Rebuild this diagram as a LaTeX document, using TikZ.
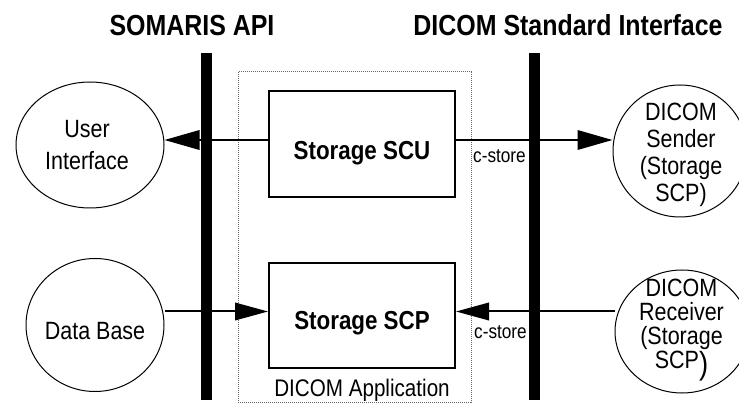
\documentclass[tikz,border=0pt]{standalone}
\usepackage{fontspec}
\setmainfont{Liberation Sans}[FakeStretch=0.86]
\usetikzlibrary{shapes.geometric,arrows.meta}
\begin{document}
\begin{tikzpicture}[x=1pt,y=-1pt,
  bar/.style={fill=black,draw=none,minimum width=11pt,minimum height=347pt,inner sep=0pt},
  box/.style={draw=black,line width=2pt,minimum width=186pt,inner sep=0pt},
  boxtext/.style={font=\bfseries\fontsize{26}{28}\selectfont,inner sep=0pt},
  circ/.style={draw=black,line width=1pt,ellipse,inner sep=0pt},
  ctext/.style={align=center,inner sep=0pt},
  title/.style={font=\bfseries\fontsize{29}{31}\selectfont,inner sep=0pt},
  lbl/.style={font=\fontsize{20}{22}\selectfont,inner sep=0pt},
  conn/.style={line width=2pt},
  bigtip/.style={-{Triangle[length=35pt,width=19.5pt]}},
  smalltip/.style={-{Triangle[length=33pt,width=17.5pt]}},
  appbox/.style={draw=black!60,line width=1pt,dash pattern=on 1pt off 1pt}
]
\useasboundingbox (0,0) rectangle (739,403);
% application box
\node[appbox,minimum width=233pt,minimum height=330pt,inner sep=0pt] (app) at (354.5,237) {};
\node[lbl,font=\fontsize{24}{26}\selectfont,anchor=base] (applbl) at (362,396) {DICOM Application};
% titles
\node[title,anchor=base] (t1) at (192,36) {SOMARIS API};
\node[title,anchor=base] (t2) at (568,36) {DICOM Standard Interface};
% boxes
\node[box,minimum height=106pt] (scu) at (362,144) {};
\node[boxtext,anchor=base] (scutxt) at ([yshift=-16pt]scu.center) {Storage SCU};
\node[box,minimum height=105pt] (scp) at (362,315.5) {};
\node[boxtext,anchor=base] (scptxt) at ([yshift=-14.5pt]scp.center) {Storage SCP};
% circles
\node[circ,minimum width=148pt,minimum height=126pt] (ui) at (90,145) {};
\node[ctext,font=\fontsize{25}{32}\selectfont] (uitxt) at (87,145) {User\\Interface};
\node[circ,minimum width=138pt,minimum height=133pt] (db) at (95,325) {};
\node[ctext,font=\fontsize{25}{27}\selectfont,anchor=base] (dbtxt) at (95,340) {Data Base};
\node[circ,minimum width=134pt,minimum height=132pt] (snd) at (680,151) {};
\node[ctext,font=\fontsize{25}{27}\selectfont] (sndtxt) at (681,155) {DICOM\\Sender\\(Storage\\SCP)};
\node[circ,minimum width=134pt,minimum height=123pt] (rcv) at (682,331.5) {};
\node[ctext,font=\fontsize{25}{24.2}\selectfont] (rcvtxt) at (681.5,330) {DICOM\\Receiver\\(Storage\\SCP\raisebox{-6pt}{\fontsize{32}{32}\selectfont )}};
% bars
\node[bar] (lbar) at (206.5,226.5) {};
\node[bar] (rbar) at (534.5,226.5) {};
% connectors
\draw[conn,bigtip] ([yshift=4pt]scu.west) -- ([yshift=4pt]scu.west -| ui.east);
\draw[conn,bigtip] ([yshift=4pt]scu.east) -- ([yshift=4pt]scu.east -| snd.west);
\draw[conn,smalltip] ([yshift=4pt]scp.west -| db.east) -- ([yshift=4pt]scp.west);
\draw[conn,smalltip] ([yshift=4pt]scp.east -| rcv.west) -- ([yshift=4pt]scp.east);
% labels
\node[lbl,anchor=base west] (cs1) at (473,162.7) {c-store};
\node[lbl,anchor=base west] (cs2) at (474,338.3) {c-store};
\end{tikzpicture}
\end{document}
